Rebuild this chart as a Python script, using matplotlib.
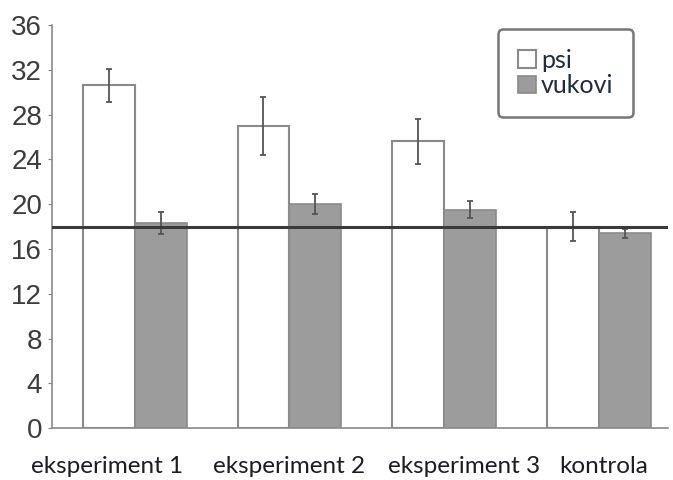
import matplotlib
matplotlib.use("Agg")
import matplotlib.pyplot as plt
import numpy as np

categories = ["eksperiment 1", "eksperiment 2", "eksperiment 3", "kontrola"]
psi = [30.6, 27.0, 25.6, 18.0]
psi_err = [1.45, 2.6, 2.0, 1.3]
vukovi = [18.3, 20.0, 19.5, 17.4]
vukovi_err = [1.0, 0.9, 0.75, 0.4]
reference_line = 18.0
yticks = [0, 4, 8, 12, 16, 20, 24, 28, 32, 36]

# layout-only offsets of category labels relative to group centres
label_shift = [-0.18, 0.0, 0.13, 0.03]

fig = plt.figure(figsize=(6.73, 4.80), dpi=100)
ax = fig.add_axes([0.077, 0.108, 0.916, 0.84])

x = np.arange(len(categories))
w = 0.336
ax.bar(x - w/2, psi, width=w, color="white", edgecolor="#8a8a8a", linewidth=1.5,
       label="psi", zorder=2)
ax.bar(x + w/2, vukovi, width=w, color="#9c9c9c", edgecolor="#8a8a8a", linewidth=1.2,
       label="vukovi", zorder=2)
ax.errorbar(x - w/2, psi, yerr=psi_err, fmt="none", ecolor="#555555", elinewidth=1.3,
            capsize=2, capthick=1.3, zorder=3)
ax.errorbar(x + w/2, vukovi, yerr=vukovi_err, fmt="none", ecolor="#555555", elinewidth=1.3,
            capsize=2, capthick=1.3, zorder=3)
ax.axhline(reference_line, color="#3a3a3a", linewidth=2.2, zorder=4)

ax.set_xlim(-0.537, 3.45)
ax.set_ylim(0, 36)
ax.set_yticks(yticks)
ax.set_yticklabels([str(t) for t in yticks], fontsize=20, color="#3c3c3c",
                   family="Liberation Sans")
ax.tick_params(axis="y", length=3, color="#888888", pad=4)
ax.set_xticks(x + np.array(label_shift))
ax.set_xticklabels(categories, fontsize=17.5, family="Lato", color="#1c1c24")
ax.tick_params(axis="x", length=0, pad=20)
for s in ["top", "right"]:
    ax.spines[s].set_visible(False)
for s in ["left", "bottom"]:
    ax.spines[s].set_color("#8a8a8a")
    ax.spines[s].set_linewidth(1.2)

leg = ax.legend(loc="upper right", bbox_to_anchor=(0.943, 0.99, 0.0, 0.0),
                prop={"family": "Lato", "size": 18}, frameon=True, fancybox=True,
                edgecolor="#555555", handlelength=0.7, handleheight=0.7,
                handletextpad=0.2, borderpad=0.8, labelspacing=0.1, labelcolor="#1f2a44",
                borderaxespad=0)
leg.get_frame().set_linewidth(1.8)
fig.savefig("out.png", dpi=100)
